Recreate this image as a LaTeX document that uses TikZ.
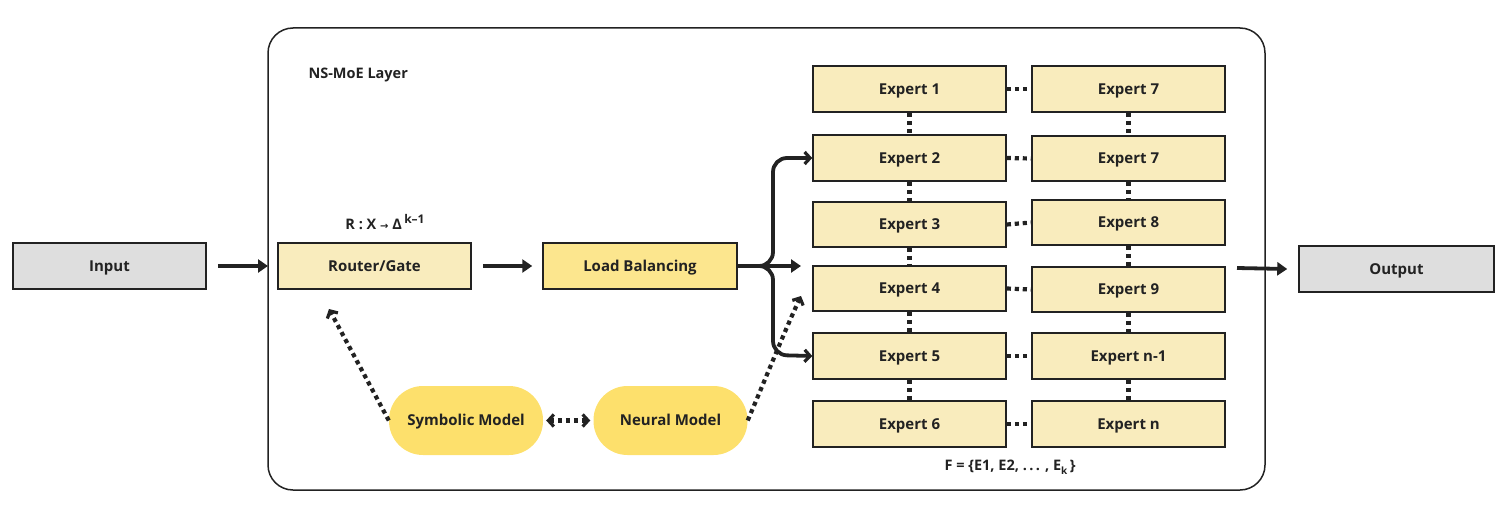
\documentclass[tikz,border=0pt]{standalone}
\usepackage{fontspec}
\setmainfont{Open Sans}
\newfontfamily\symfont{DejaVu Sans}
\usetikzlibrary{arrows.meta,positioning}
\definecolor{cream}{HTML}{F9ECBD}
\definecolor{lbyellow}{HTML}{FCE68E}
\definecolor{pill}{HTML}{FDE06C}
\definecolor{greybox}{HTML}{DEDEDE}
\definecolor{ink}{HTML}{222222}
\tikzset{mybarb/.tip={Straight Barb[length=5.5pt,width=12pt,line width=3.2pt]}}
\begin{document}
\begin{tikzpicture}[x=1pt,y=-1pt,
  box/.style={draw=ink,line width=1.5pt,minimum width=193pt,minimum height=46pt,inner sep=0pt,text height=11pt,text depth=1pt,font=\bfseries\fontsize{15}{17}\selectfont,text=ink},
  expbox/.style={box,fill=cream},
  pillbox/.style={fill=pill,rounded corners=34pt,minimum width=154pt,minimum height=69pt,inner sep=0pt,text height=11pt,text depth=1pt,font=\bfseries\fontsize{15}{17}\selectfont,text=ink},
  solidarrow/.style={ink,line width=3.8pt,-{Triangle[length=10pt,width=13pt]}},
  chevarrow/.style={ink,line width=3.8pt,-{mybarb}},
  dots/.style={ink,line width=4.2pt,dash pattern=on 4.2pt off 3.8pt},
  lbl/.style={font=\bfseries\fontsize{14.5}{16}\selectfont,text=ink}
]
\useasboundingbox (0,0) rectangle (1507,519);
% outer layer
\draw[ink,line width=1.5pt,rounded corners=25pt] (268,28) rectangle (1265,490);
\node[lbl,anchor=west] (title) at (305,75) {NS-MoE Layer};

% input / output
\node[box,fill=greybox] (in) at (109.5,266) {Input};
\node[box,fill=greybox,minimum width=195pt] (out) at (1396.5,269) {Output};

\node[expbox] (router) at (374.5,266) {Router/Gate};
\node[lbl] (rlabel) at (385,222) {R : X {\symfont\fontsize{10}{12}\selectfont →} Δ\,\raisebox{6pt}{\fontsize{12}{12}\selectfont k\textendash1}};
\node[box,fill=lbyellow,minimum width=194pt] (lb) at (640,266) {Load Balancing};

% experts
\node[expbox] (e1) at (909.5,89) {Expert 1};
\node[expbox] (e2) at (909.5,158) {Expert 2};
\node[expbox,minimum height=45pt] (e3) at (909.5,224.5) {Expert 3};
\node[expbox,minimum height=45pt] (e4) at (909.5,288.5) {Expert 4};
\node[expbox] (e5) at (909.5,356) {Expert 5};
\node[expbox] (e6) at (909.5,424) {Expert 6};
\node[expbox] (f1) at (1128.5,89) {Expert 7};
\node[expbox,minimum height=45pt] (f2) at (1128.5,158.5) {Expert 7};
\node[expbox,minimum height=45pt] (f3) at (1128.5,222.5) {Expert 8};
\node[expbox,minimum height=45pt] (f4) at (1128.5,289.5) {Expert 9};
\node[expbox] (f5) at (1128.5,356) {Expert n-1};
\node[expbox] (f6) at (1128.5,424) {Expert n};
\node[lbl] (fset) at (1010,467) {F = \{E1, E2, .\,.\,. , E\raisebox{-4pt}{\fontsize{10}{12}\selectfont k}\,\}};

% dotted links
\foreach \a/\b in {e1/f1,e2/f2,e3/f3,e4/f4,e5/f5,e6/f6}{
  \draw[dots] (\a.east) -- (\b.west);
}
\foreach \a/\b in {e1/e2,e2/e3,e3/e4,e4/e5,e5/e6,f1/f2,f2/f3,f3/f4,f4/f5,f5/f6}{
  \draw[dots] (\a.south) -- (\b.north);
}

% symbolic / neural
\node[pillbox] (sym) at (466,420.5) {Symbolic Model};
\node[pillbox] (neu) at (670.5,420.5) {Neural Model};
\draw[dots,{mybarb}-{mybarb}] ([xshift=3pt]sym.east) -- ([xshift=-3pt]neu.west);
\coordinate (symtip) at (329,309);
\draw[dots,-{mybarb}] (sym.west) -- (symtip);
\coordinate (neutip) at (801,296);
\draw[dots,-{mybarb}] (neu.east) .. controls (765,380) and (785,330) .. (neutip);

% main arrows
\coordinate (inend) at (268,266);
\draw[solidarrow] ([xshift=11pt]in.east) -- (inend);
\draw[solidarrow] ([xshift=11pt]router.east) -- ([xshift=-10pt]lb.west);
\coordinate (midtip) at (801,266);
\draw[solidarrow] (lb.east) -- (midtip);
\draw[chevarrow,rounded corners=14pt] (lb.east) -| (773,158) -- (e2.west);
\draw[chevarrow,rounded corners=14pt] (lb.east) -| (773,355) -- (e5.west);
\coordinate (outstart) at (1237,268);
\draw[solidarrow] (outstart) -- ([xshift=-11pt]out.west);
\end{tikzpicture}
\end{document}
